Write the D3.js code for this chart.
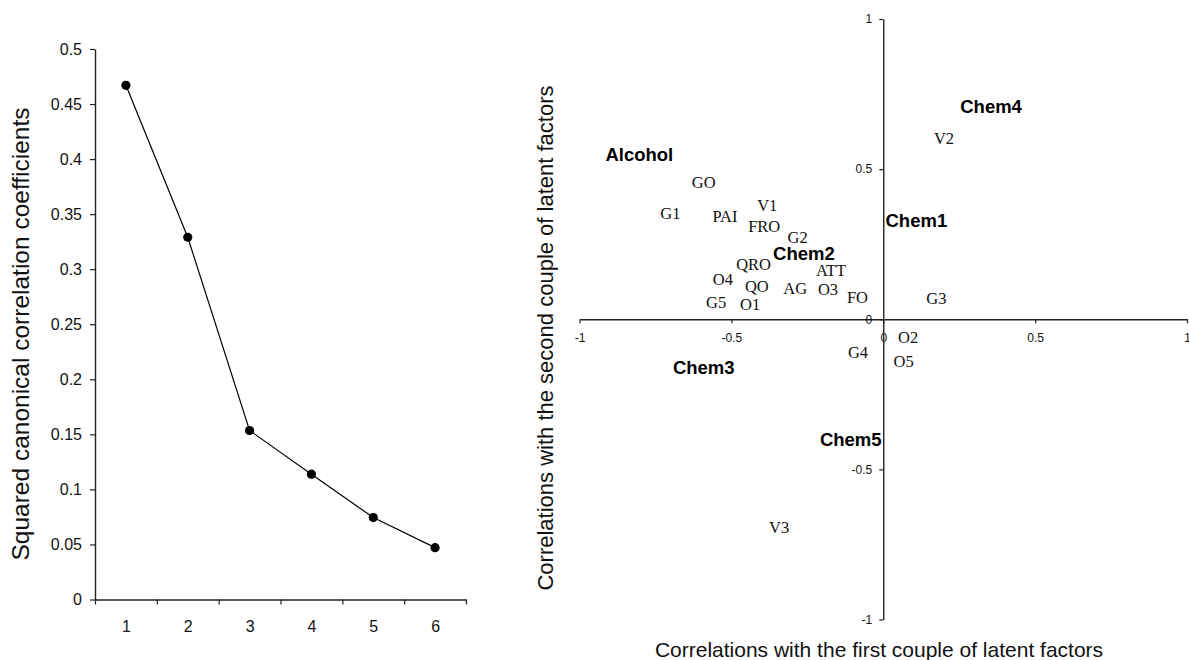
<!DOCTYPE html>
<html>
<head>
<meta charset="utf-8">
<script src="https://cdn.jsdelivr.net/npm/d3@7"></script>
<style>
  html, body { margin: 0; padding: 0; background: #fff; }
  svg { display: block; }
  .sans { font-family: "Liberation Sans", Arial, sans-serif; }
  .serif { font-family: "Liberation Serif", "Times New Roman", serif; }
</style>
</head>
<body>
<svg id="chart" width="1189" height="660"></svg>
<script>
// Scree plot: squared canonical correlation coefficient per canonical pair
const pairs = ["1", "2", "3", "4", "5", "6"];
const squaredCorr = [0.467, 0.329, 0.1535, 0.1138, 0.0744, 0.0471];
const screeTicks = [0, 0.05, 0.1, 0.15, 0.2, 0.25, 0.3, 0.35, 0.4, 0.45, 0.5];
const screeTickLabels = ["0", "0.05", "0.1", "0.15", "0.2", "0.25", "0.3", "0.35", "0.4", "0.45", "0.5"];

// Correlation circle: sensory variables (serif) and chemical blocks (bold)
const varNames = ["GO", "G1", "PAI", "V1", "FRO", "G2", "QRO", "ATT", "O4", "QO", "AG", "O3", "FO",
                  "G5", "O1", "V2", "G3", "O2", "G4", "O5", "V3"];
const varX = [-0.591, -0.701, -0.521, -0.382, -0.392, -0.282, -0.427, -0.172, -0.528, -0.416, -0.290, -0.182, -0.085,
              -0.550, -0.438, 0.200, 0.175, 0.082, -0.083, 0.067, -0.343];
const varY = [0.454, 0.352, 0.343, 0.378, 0.309, 0.271, 0.183, 0.163, 0.132, 0.109, 0.102, 0.099, 0.072,
              0.055, 0.048, 0.602, 0.068, -0.062, -0.112, -0.141, -0.695];
const blockNames = ["Alcohol", "Chem1", "Chem2", "Chem3", "Chem4", "Chem5"];
const blockX = [-0.803, 0.109, -0.261, -0.591, 0.355, -0.107];
const blockY = [0.548, 0.329, 0.218, -0.162, 0.707, -0.401];
const corrTicks = [-1, -0.5, 0, 0.5, 1];
const corrTickLabels = ["-1", "-0.5", "0", "0.5", "1"];

const svg = d3.select("#chart");
const axisColor = "#222";

function styleAxis(g, fontSize) {
  g.selectAll("path.domain").attr("stroke", axisColor).attr("stroke-width", 1.4);
  g.selectAll(".tick line").attr("stroke", axisColor).attr("stroke-width", 1.2);
  g.selectAll(".tick text")
    .attr("fill", "#111")
    .style("font-family", '"Liberation Sans", Arial, sans-serif')
    .style("font-size", fontSize + "px");
}

// ---------- Left panel: scree plot ----------
const sx = d3.scaleLinear().domain([0.5, 6.5]).range([95, 466]);
const sy = d3.scaleLinear().domain([0, 0.5]).range([599.5, 49]);

const syAxis = svg.append("g").attr("transform", `translate(${sx(0.5)},0)`)
  .call(d3.axisLeft(sy).tickValues(screeTicks)
    .tickFormat((d, i) => screeTickLabels[i])
    .tickSize(5).tickSizeOuter(0).tickPadding(8));
styleAxis(syAxis, 16);

// boundary ticks between pairs
const sxTicks = svg.append("g").attr("transform", `translate(0,${sy(0)})`)
  .call(d3.axisBottom(sx).tickValues(d3.range(0.5, 7, 1))
    .tickFormat("").tickSize(5).tickSizeOuter(0));
styleAxis(sxTicks, 16);

// pair labels centred in each slot
const sxLabels = svg.append("g").attr("transform", `translate(0,${sy(0)})`)
  .call(d3.axisBottom(sx).tickValues(pairs.map(Number))
    .tickFormat((d, i) => pairs[i]).tickSize(0).tickPadding(21));
sxLabels.select("path.domain").remove();
styleAxis(sxLabels, 16);

const line = d3.line()
  .x((d, i) => sx(i + 1))
  .y(d => sy(d));
svg.append("path").datum(squaredCorr)
  .attr("d", line).attr("fill", "none")
  .attr("stroke", "#000").attr("stroke-width", 1.2);

svg.append("g").selectAll("circle").data(squaredCorr).join("circle")
  .attr("cx", (d, i) => sx(i + 1))
  .attr("cy", d => sy(d))
  .attr("r", 4.6).attr("fill", "#000");

svg.append("text").attr("class", "sans")
  .attr("transform", "translate(29,334) rotate(-90)")
  .attr("text-anchor", "middle")
  .style("font-size", "24.5px").attr("fill", "#111")
  .text("Squared canonical correlation coefficients");

// ---------- Right panel: correlation plot ----------
const cx = d3.scaleLinear().domain([-1, 1]).range([579.5, 1187]);
const cy = d3.scaleLinear().domain([-1, 1]).range([619.5, 19]);

const cxAxis = svg.append("g").attr("transform", `translate(0,${cy(0)})`)
  .call(d3.axisBottom(cx).tickValues(corrTicks)
    .tickFormat((d, i) => corrTickLabels[i])
    .tickSize(4).tickSizeOuter(0).tickPadding(10));
styleAxis(cxAxis, 12);

const cyAxis = svg.append("g").attr("transform", `translate(${cx(0)},0)`)
  .call(d3.axisLeft(cy).tickValues(corrTicks)
    .tickFormat((d, i) => corrTickLabels[i])
    .tickSize(4).tickSizeOuter(0).tickPadding(7));
styleAxis(cyAxis, 12);

svg.append("g").selectAll("text").data(varNames).join("text")
  .attr("class", "serif")
  .attr("x", (d, i) => cx(varX[i]))
  .attr("y", (d, i) => cy(varY[i]))
  .attr("text-anchor", "middle")
  .attr("dominant-baseline", "central")
  .style("font-size", "16.5px")
  .attr("fill", "#111")
  .text(d => d);

svg.append("g").selectAll("text").data(blockNames).join("text")
  .attr("class", "sans")
  .attr("x", (d, i) => cx(blockX[i]))
  .attr("y", (d, i) => cy(blockY[i]))
  .attr("text-anchor", "middle")
  .attr("dominant-baseline", "central")
  .style("font-size", "18.5px")
  .style("font-weight", "bold")
  .attr("fill", "#000")
  .text(d => d);

svg.append("text").attr("class", "sans")
  .attr("transform", "translate(553,338) rotate(-90)")
  .attr("text-anchor", "middle")
  .style("font-size", "22px").attr("fill", "#111")
  .text("Correlations with the second couple of latent factors");

svg.append("text").attr("class", "sans")
  .attr("x", 879).attr("y", 657)
  .attr("text-anchor", "middle")
  .style("font-size", "21px").attr("fill", "#111")
  .text("Correlations with the first couple of latent factors");
</script>
</body>
</html>
